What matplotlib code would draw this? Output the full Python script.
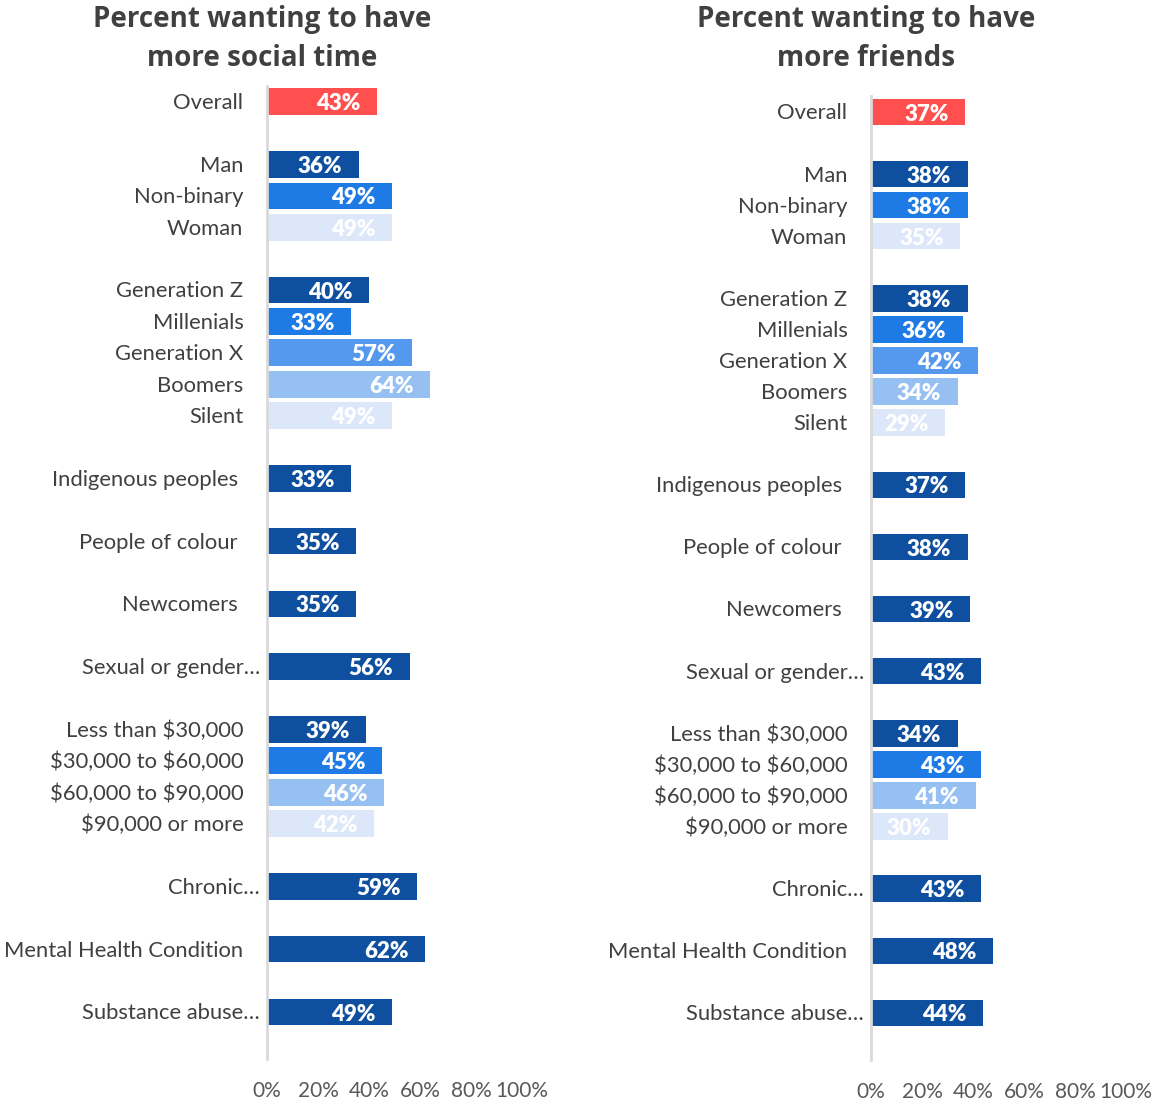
import numpy as np
import matplotlib
matplotlib.use('Agg')
import matplotlib.pyplot as plt

nan = np.nan

# rows top to bottom, '' = spacer row
categories = ['Overall', '', 'Man', 'Non-binary', 'Woman', '',
              'Generation Z', 'Millenials', 'Generation X', 'Boomers', 'Silent', '',
              'Indigenous peoples', '', 'People of colour', '', 'Newcomers', '',
              'Sexual or gender\u2026', '',
              'Less than $30,000', '$30,000 to $60,000', '$60,000 to $90,000', '$90,000 or more', '',
              'Chronic\u2026', '', 'Mental Health Condition', '', 'Substance abuse\u2026', '']
social = [43, nan, 36, 49, 49, nan, 40, 33, 57, 64, 49, nan, 33, nan, 35, nan, 35, nan,
          56, nan, 39, 45, 46, 42, nan, 59, nan, 62, nan, 49, nan]
friends = [37, nan, 38, 38, 35, nan, 38, 36, 42, 34, 29, nan, 37, nan, 38, nan, 39, nan,
           43, nan, 34, 43, 41, 30, nan, 43, nan, 48, nan, 44, nan]
titles = ['Percent wanting to have\nmore social time', 'Percent wanting to have\nmore friends']
xticks = [0, 20, 40, 60, 80, 100]

RED, DARK, MID, GEN, LIGHT, PALE = '#FF4F4F', '#0E4F9F', '#1E7BE6', '#5599EE', '#96BFF2', '#DCE8F9'
shades = [RED, None, DARK, MID, PALE, None, DARK, MID, GEN, LIGHT, PALE, None,
          DARK, None, DARK, None, DARK, None, DARK, None, DARK, MID, LIGHT, PALE, None,
          DARK, None, DARK, None, DARK, None]

LABEL_FONT = 'Lato'
TXT = '#404040'

fig = plt.figure(figsize=(11.53, 11.01), dpi=100)
W, H = 1153, 1101

# axes boxes in pixels: left, top, width, bottom
boxes = [(267, 86, 255, 1059), (871, 96.5, 255, 1059.5)]
title_x = [262, 866]

for i, vals in enumerate([social, friends]):
    l, t, w, b = boxes[i]
    ax = fig.add_axes([l / W, 1 - b / H, w / W, (b - t) / H])
    y = np.arange(len(categories))
    v = np.array(vals, dtype=float)
    ok = ~np.isnan(v)
    cols = [c for c in shades if c is not None]
    ax.barh(y[ok], v[ok], height=0.85, color=cols, zorder=2)
    ax.set_xlim(0, 100)
    ax.set_ylim(len(categories) - 0.5, -0.5)
    for s in ['top', 'right', 'bottom']:
        ax.spines[s].set_visible(False)
    ax.spines['left'].set_color('#D9D9D9')
    ax.spines['left'].set_linewidth(2)
    ax.set_yticks([])
    ax.set_xticks(xticks)
    ax.set_xticklabels(['%d%%' % x for x in xticks], family=LABEL_FONT, fontsize=15, color='#595959')
    ax.tick_params(axis='x', length=0, pad=16)

    for yy, name in enumerate(categories):
        if not name:
            continue
        if name.endswith('\u2026'):
            gap = 5
        elif name in ('Indigenous peoples', 'People of colour', 'Newcomers'):
            gap = 21
        else:
            gap = 17
        ax.annotate(name, xy=(0, yy), xycoords=('axes fraction', 'data'),
                    xytext=(-gap, -1), textcoords='offset points', parse_math=False,
                    ha='right', va='center', family=LABEL_FONT, fontsize=15.8, color=TXT)
    for yy in y[ok]:
        ax.annotate('%d%%' % v[yy], xy=(v[yy], yy), xytext=(-12, -1.5), textcoords='offset points',
                    ha='right', va='center', family=LABEL_FONT, fontsize=16,
                    fontweight='heavy', color='white')

    fig.text(title_x[i] / W, 1 - 39 / H, titles[i], ha='center', va='center',
             family='Open Sans', fontweight='bold', fontsize=20, color=TXT,
             linespacing=1.42)

fig.savefig('out.png', dpi=100, facecolor='white')
